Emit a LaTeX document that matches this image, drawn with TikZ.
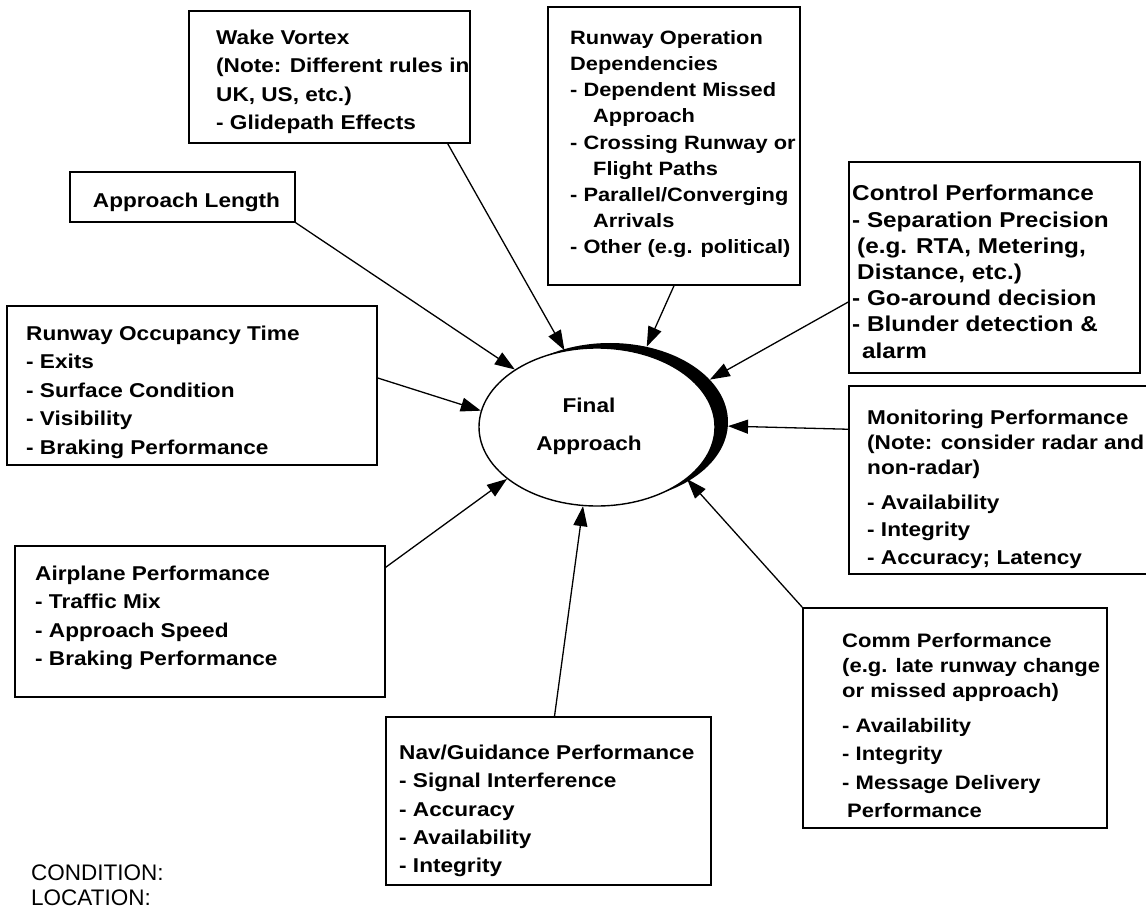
\documentclass[tikz,border=0pt]{standalone}
\usepackage{fontspec}
\newfontfamily\boxfont[FakeStretch=1.13]{Liberation Sans}
\newfontfamily\plainfont{Liberation Sans}
\usetikzlibrary{arrows.meta,shapes.geometric}
\newcommand{\bsz}[2]{\boxfont\bfseries\fontsize{#1}{#2}\selectfont}
\begin{document}
\begin{tikzpicture}[x=1pt,y=-1pt,
  boxframe/.style={draw, line width=1.5pt, rectangle, inner sep=0pt},
  boxtext/.style={align=left, inner sep=0pt, anchor=north west},
  conn/.style={line width=1.3pt, -{Triangle[length=20pt,width=14pt]}},
]
\useasboundingbox (0,0) rectangle (1146,909);

% boxes
\node[boxframe, minimum width=281pt, minimum height=132pt] (wake) at (329.5,77) {};
\node[boxframe, minimum width=225pt, minimum height=50pt] (al) at (182.5,197) {};
\node[boxframe, minimum width=252pt, minimum height=278pt] (rops) at (674,146) {};
\node[boxframe, minimum width=291pt, minimum height=211pt] (ctrl) at (994.5,267.5) {};
\node[boxframe, minimum width=306pt, minimum height=188pt] (mon) at (1002,480) {};
\node[boxframe, minimum width=370pt, minimum height=159pt] (rot) at (192,385.5) {};
\node[boxframe, minimum width=370pt, minimum height=151pt] (ap) at (200,621.5) {};
\node[boxframe, minimum width=325pt, minimum height=168pt] (nav) at (548.5,801) {};
\node[boxframe, minimum width=304pt, minimum height=220pt] (comm) at (955,718) {};

% central ellipse with crescent shadow
\node[ellipse, fill=black, minimum width=236pt, minimum height=158pt, inner sep=0pt] (fash) at (610,422) {};
\node[ellipse, draw, fill=white, line width=1.4pt, minimum width=236pt, minimum height=158pt, inner sep=0pt] (fa) at (597,427) {};
\node[font=\bsz{20}{38}, align=center, anchor=north, inner sep=0pt] (fat) at (589,385.6) {\strut Final\\Approach};

% connectors
\draw[conn] (al.south east) -- (fa.145);
\draw[conn] ([xshift=-23pt]wake.south east) -- (fa.113);
\draw[conn] (rops.south) -- (fash.64);
\draw[conn] ([yshift=-34.5pt]ctrl.west) -- (fash.23);
\draw[conn] ([yshift=-44pt]mon.north west) -- (fash.358);
\draw[conn] (comm.north west) -- (fa.330);
\draw[conn] ([xshift=6pt]nav.north) -- (fa.260);
\draw[conn] ([yshift=-22pt]ap.north east) -- (fa.210);
\draw[conn] ([yshift=7.5pt]rot.east) -- (fa.172);

% texts
\node[boxtext, font=\bsz{20}{28.3}] (waket) at (216,24.4) {\strut Wake Vortex\\(Note: Different rules in\\UK, US, etc.)\\- Glidepath Effects};
\node[font=\bsz{20}{28}, anchor=base, inner sep=0pt] (alt) at (186.5,207.2) {Approach Length};
\node[boxtext, font=\bsz{19.3}{26.1}] (ropst) at (570,26.2) {\strut Runway Operation\\Dependencies\\- Dependent Missed\\\hspace*{23pt}Approach\\- Crossing Runway or\\\hspace*{23pt}Flight Paths\\- Parallel/Converging\\\hspace*{23pt}Arrivals\\- Other (e.g. political)};
\node[boxtext, font=\bsz{21.5}{26.2}] (ctrlt) at (852,182.4) {\strut Control Performance\\- Separation Precision\\\hspace*{5pt}(e.g. RTA, Metering,\\\hspace*{5pt}Distance, etc.)\\- Go-around decision\\- Blunder detection \&\\\hspace*{10pt}alarm};
\node[boxtext, font=\bsz{20}{25}] (mont) at (867,406.7) {\strut Monitoring Performance\\(Note: consider radar and\\non-radar)\\[10pt]- Availability\\[2.5pt]- Integrity\\[3pt]- Accuracy; Latency};
\node[boxtext, font=\bsz{20}{28.5}] (rott) at (26,320.3) {\strut Runway Occupancy Time\\- Exits\\- Surface Condition\\- Visibility\\- Braking Performance};
\node[boxtext, font=\bsz{20}{28.3}] (apt) at (35,560.4) {\strut Airplane Performance\\- Traffic Mix\\- Approach Speed\\- Braking Performance};
\node[boxtext, font=\bsz{20}{28.3}] (navt) at (399,739.4) {\strut Nav/Guidance Performance\\- Signal Interference\\- Accuracy\\- Availability\\- Integrity};
\node[boxtext, font=\bsz{19.5}{25}] (commt) at (842,629.5) {\strut Comm Performance\\(e.g. late runway change\\or missed approach)\\[10pt]- Availability\\[3pt]- Integrity\\[4pt]- Message Delivery\\[3pt]\hspace*{5pt}Performance};

\node[font=\plainfont\fontsize{22.5}{25}\selectfont, anchor=base west, inner sep=0pt] (cond) at (31,880) {CONDITION:};
\node[font=\plainfont\fontsize{22.5}{25}\selectfont, anchor=base west, inner sep=0pt] (loc) at (31,905) {LOCATION:};
\end{tikzpicture}
\end{document}
